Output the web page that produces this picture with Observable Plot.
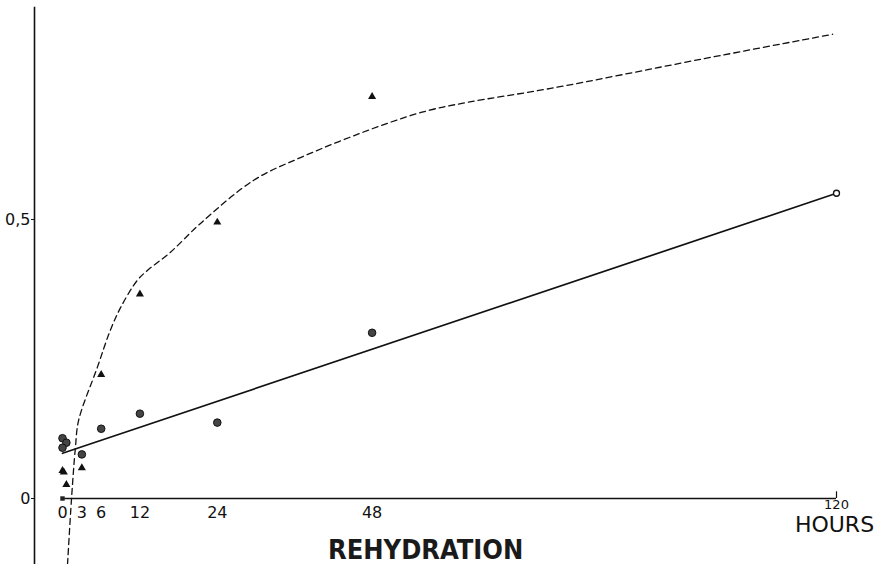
<!DOCTYPE html>
<html>
<head>
<meta charset="utf-8">
<script src="https://cdn.jsdelivr.net/npm/d3@7"></script>
<script src="https://cdn.jsdelivr.net/npm/@observablehq/plot@0.6"></script>
<style>
  html, body { margin: 0; padding: 0; background: #fff; }
  svg { display: block; }
</style>
</head>
<body>
<div id="chart"></div>
<script>
// Circles (solid-line series)
const circleHours  = [0, 0.6, 0, 3, 6, 12, 24, 48];
const circleValues = [0.108, 0.100, 0.091, 0.079, 0.125, 0.152, 0.136, 0.297];
// End point of solid line (open circle)
const endHours  = [120];
const endValues = [0.547];
// Triangles (dashed-curve series)
const triangleHours  = [0, 0.2, 0.6, 3, 6, 12, 24, 48];
const triangleValues = [0.050, 0.047, 0.025, 0.055, 0.222, 0.366, 0.495, 0.720];
// Small square at origin
const squareHours  = [0];
const squareValues = [0];
// Solid fitted line
const lineHours  = [0, 120];
const lineValues = [0.081, 0.547];
// Dashed hand-drawn curve
const curveHours  = [0.78, 1.4, 2.0, 2.5, 5.4, 7.4, 9.0, 11.6, 13.2, 16.7, 21.4, 29.6, 36.9, 49.3, 56.6, 62.8, 75.7, 98.9, 119.4];
const curveValues = [-0.118, 0.0, 0.091, 0.14, 0.235, 0.301, 0.342, 0.391, 0.409, 0.441, 0.493, 0.570, 0.611, 0.668, 0.695, 0.710, 0.735, 0.787, 0.832];
// Tick labels
const xTicks = [0, 3, 6, 12, 24, 48];
const xEndTick = [120];
const yTicks = [0, 0.5];
const yTickLabels = ["0", "0,5"];
const xTitle = "REHYDRATION";
const unitLabel = "HOURS";

const circles = circleHours.map((h, i) => ({h, v: circleValues[i]}));
const ends = endHours.map((h, i) => ({h, v: endValues[i]}));
const triangles = triangleHours.map((h, i) => ({h, v: triangleValues[i]}));
const squares = squareHours.map((h, i) => ({h, v: squareValues[i]}));
const line = lineHours.map((h, i) => ({h, v: lineValues[i]}));
const curve = curveHours.map((h, i) => ({h, v: curveValues[i]}));

const font = "'DejaVu Sans', sans-serif";

const chart = Plot.plot({
  width: 883,
  height: 564,
  marginLeft: 34,
  marginRight: 0,
  marginTop: 7,
  marginBottom: 0,
  style: {background: "#fff", color: "#111", fontFamily: font},
  x: {domain: [0, 120], range: [62, 836]},
  y: {domain: [0, 0.5], range: [498, 219]},
  marks: [
    Plot.frame({anchor: "left", stroke: "#111", strokeWidth: 1.6}),
    Plot.axisY({ticks: yTicks, tickFormat: (d) => yTickLabels[yTicks.indexOf(d)], tickSize: 3, tickPadding: 1, fontSize: 16, label: null, stroke: "#111"}),
    Plot.axisX({ticks: [], label: null}),
    Plot.ruleY([0], {x1: 0, x2: 120, stroke: "#111", strokeWidth: 1.3}),
    Plot.ruleX(xEndTick, {y1: 0, y2: 0.012, stroke: "#111", strokeWidth: 1.2}),
    Plot.text(xTicks, {x: (d) => d, y: 0, text: (d) => String(d), dy: 8, fontSize: 16, lineAnchor: "top", fill: "#111"}),
    Plot.text(xEndTick, {x: (d) => d, y: 0, text: (d) => String(d), dy: 1, fontSize: 13, lineAnchor: "top", fill: "#111"}),
    Plot.line(curve, {x: "h", y: "v", curve: "catmull-rom", stroke: "#111", strokeWidth: 1.3, strokeDasharray: "6,4"}),
    Plot.line(line, {x: "h", y: "v", stroke: "#111", strokeWidth: 1.7}),
    Plot.dot(circles, {x: "h", y: "v", r: 3.8, fill: "#444", stroke: "#111", strokeWidth: 1}),
    Plot.dot(ends, {x: "h", y: "v", r: 3, fill: "#fff", stroke: "#111", strokeWidth: 1.3}),
    Plot.dot(triangles, {x: "h", y: "v", symbol: "triangle", r: 3, fill: "#111"}),
    Plot.dot(squares, {x: "h", y: "v", symbol: "square", r: 2.5, fill: "#222"}),
    Plot.text([xTitle], {x: 56.3, frameAnchor: "bottom", lineAnchor: "bottom", dy: -6, fontSize: 27, fontWeight: "bold", fill: "#1a1a1a", fontFamily: "'DejaVu Sans Condensed', 'DejaVu Sans', sans-serif"}),
    Plot.text([unitLabel], {x: 120, y: 0, dy: 18, dx: -2, fontSize: 22, lineAnchor: "top", fill: "#111", fontFamily: "'DejaVu Sans', sans-serif"})
  ]
});
document.getElementById("chart").appendChild(chart);
</script>
</body>
</html>
